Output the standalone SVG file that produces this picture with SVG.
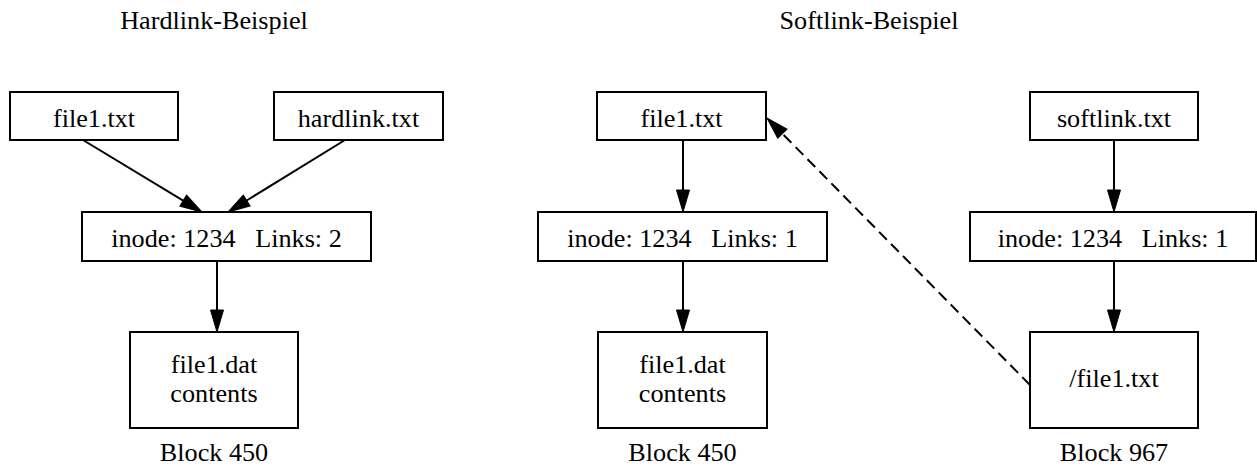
<svg xmlns="http://www.w3.org/2000/svg" width="1257" height="466" viewBox="0 0 1257 466">
<style>
text{font-family:"Liberation Serif","Times New Roman",serif;font-size:26.2px;fill:#000;text-anchor:middle}
.box{fill:#fff;stroke:#000;stroke-width:2}
.edge{fill:none;stroke:#000;stroke-width:2}
.dash{stroke-dasharray:11,6}
</style>
<defs>
<marker id="ah" markerUnits="userSpaceOnUse" markerWidth="23" markerHeight="14" refX="0" refY="6.5" orient="auto" overflow="visible">
<path d="M0,0 L22,6.5 L0,13 Z" fill="#000" stroke="#000" stroke-width="1"/>
</marker>
</defs>
<rect width="1257" height="466" fill="#fff"/>
<text x="214" y="29">Hardlink-Beispiel</text>
<text x="869" y="29">Softlink-Beispiel</text>
<g id="connectors">
<line class="edge" x1="83" y1="140" x2="183.2" y2="200.6" marker-end="url(#ah)"/>
<line class="edge" x1="345" y1="140" x2="246.7" y2="200.5" marker-end="url(#ah)"/>
<line class="edge" x1="217" y1="261" x2="217" y2="310" marker-end="url(#ah)"/>
<line class="edge" x1="683" y1="140" x2="683" y2="190" marker-end="url(#ah)"/>
<line class="edge" x1="683" y1="261" x2="683" y2="310" marker-end="url(#ah)"/>
<line class="edge" x1="1114" y1="140" x2="1114" y2="190" marker-end="url(#ah)"/>
<line class="edge" x1="1114" y1="261" x2="1114" y2="310" marker-end="url(#ah)"/>
<line class="edge dash" x1="1030" y1="385" x2="782.4" y2="133.7" marker-end="url(#ah)"/>
</g>
<g id="h_file1"><rect class="box" x="10" y="92" width="168" height="48"/><text x="94" y="127">file1.txt</text></g>
<g id="h_hardlink"><rect class="box" x="274" y="92" width="169" height="48"/><text x="358.5" y="127">hardlink.txt</text></g>
<g id="h_inode"><rect class="box" x="82" y="212" width="289" height="49"/><text x="226.5" y="247" xml:space="preserve">inode: 1234   Links: 2</text></g>
<g id="h_block"><rect class="box" x="130" y="332" width="168" height="96"/><text x="214" y="373">file1.dat</text><text x="214" y="402">contents</text><text x="214" y="461">Block 450</text></g>
<g id="s_file1"><rect class="box" x="597" y="92" width="169" height="48"/><text x="681.5" y="127">file1.txt</text></g>
<g id="s_inode1"><rect class="box" x="538" y="212" width="289" height="49"/><text x="682.5" y="247" xml:space="preserve">inode: 1234   Links: 1</text></g>
<g id="s_block450"><rect class="box" x="598" y="332" width="169" height="96"/><text x="682.5" y="373">file1.dat</text><text x="682.5" y="402">contents</text><text x="682.5" y="461">Block 450</text></g>
<g id="s_softlink"><rect class="box" x="1030" y="92" width="168" height="48"/><text x="1114" y="127">softlink.txt</text></g>
<g id="s_inode2"><rect class="box" x="970" y="212" width="286" height="49"/><text x="1113" y="247" xml:space="preserve">inode: 1234   Links: 1</text></g>
<g id="s_block967"><rect class="box" x="1030" y="332" width="168" height="96"/><text x="1114" y="387">/file1.txt</text><text x="1114" y="461">Block 967</text></g>
</svg>
